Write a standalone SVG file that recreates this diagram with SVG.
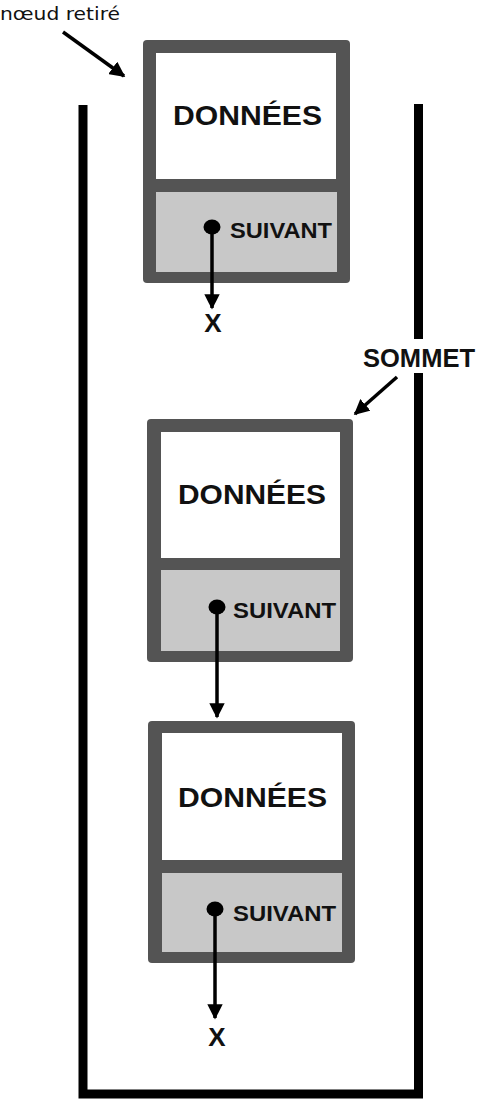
<svg xmlns="http://www.w3.org/2000/svg" width="503" height="1105" viewBox="0 0 503 1105">
<defs>
<style>
.frame{fill:#545454}
.data{fill:#ffffff}
.next{fill:#c8c8c8}
.big{font-family:"Liberation Sans",Arial,sans-serif;font-weight:bold;font-size:28px;fill:#111}
.small{font-family:"Liberation Sans",Arial,sans-serif;font-weight:bold;font-size:22px;fill:#111}
.lbl{font-family:"Liberation Sans",Arial,sans-serif;font-weight:bold;font-size:26px;fill:#111}
.note{font-family:"DejaVu Sans",Verdana,sans-serif;font-size:18px;fill:#111}
.wall{fill:none;stroke:#000;stroke-width:9}
.ptr{stroke:#000;stroke-width:3.5;fill:none}
</style>
<marker id="ah" viewBox="0 0 10 10" refX="9" refY="5" markerWidth="4.4" markerHeight="4.4" markerUnits="strokeWidth" orient="auto">
<path d="M0,0 L10,5 L0,10 z" fill="#000"/>
</marker>
</defs>
<rect width="503" height="1105" fill="#fff"/>
<g id="stack">
<path class="wall" d="M83,105 V1094 H418.5 V373"/>
<path class="wall" d="M418.5,104 V339"/>
</g>
<g id="node1">
<rect class="frame" x="143" y="40" width="207" height="243" rx="4"/>
<rect class="data" x="156" y="53" width="180" height="126"/>
<rect class="next" x="156" y="192" width="181" height="80"/>
<text class="big" x="173" y="125" textLength="149" lengthAdjust="spacingAndGlyphs">DONNÉES</text>
<text class="small" x="230" y="238" textLength="102" lengthAdjust="spacingAndGlyphs">SUIVANT</text>
<ellipse cx="212" cy="227" rx="8.5" ry="7.5" fill="#000"/>
</g>
<g id="node2">
<rect class="frame" x="147" y="419" width="206" height="243" rx="4"/>
<rect class="data" x="161" y="432" width="179" height="126"/>
<rect class="next" x="161" y="570" width="179" height="81"/>
<text class="big" x="178" y="504" textLength="148" lengthAdjust="spacingAndGlyphs">DONNÉES</text>
<text class="small" x="233" y="618" textLength="103" lengthAdjust="spacingAndGlyphs">SUIVANT</text>
<ellipse cx="217" cy="607" rx="8.5" ry="7.5" fill="#000"/>
</g>
<g id="node3">
<rect class="frame" x="148" y="721" width="207" height="242" rx="4"/>
<rect class="data" x="162" y="733" width="180" height="127"/>
<rect class="next" x="162" y="873" width="180" height="79"/>
<text class="big" x="178" y="807" textLength="149" lengthAdjust="spacingAndGlyphs">DONNÉES</text>
<text class="small" x="233" y="921" textLength="103" lengthAdjust="spacingAndGlyphs">SUIVANT</text>
<ellipse cx="215" cy="909" rx="8.5" ry="7.5" fill="#000"/>
</g>
<g id="labels">
<text class="note" x="0" y="20" textLength="120" lengthAdjust="spacingAndGlyphs">nœud retiré</text>
<text class="lbl" x="363" y="367" textLength="112" lengthAdjust="spacingAndGlyphs">SOMMET</text>
<text class="lbl" x="213" y="332" text-anchor="middle" font-size="28">X</text>
<text class="lbl" x="217" y="1046" text-anchor="middle" font-size="28">X</text>
</g>
<g id="connectors">
<line class="ptr" x1="63" y1="32" x2="124" y2="76" marker-end="url(#ah)"/>
<line class="ptr" x1="397" y1="377" x2="355" y2="414" marker-end="url(#ah)"/>
<line class="ptr" x1="212" y1="227" x2="212" y2="308" marker-end="url(#ah)"/>
<line class="ptr" x1="217" y1="607" x2="217" y2="717" marker-end="url(#ah)"/>
<line class="ptr" x1="215" y1="909" x2="215" y2="1018" marker-end="url(#ah)"/>
</g>
</svg>
